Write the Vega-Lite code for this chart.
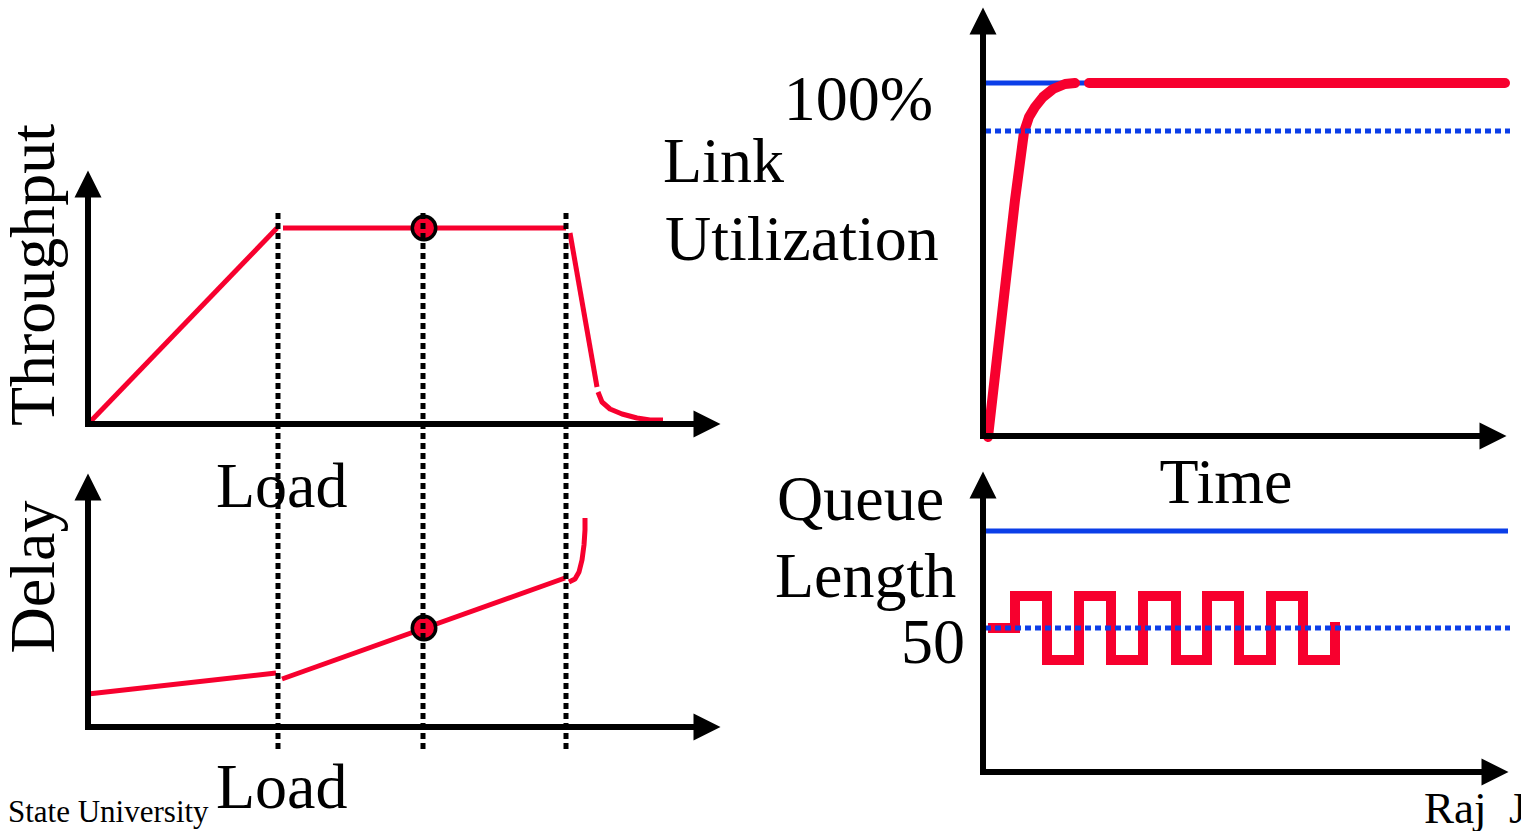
{
  "$schema": "https://vega.github.io/schema/vega-lite/v6.json",
  "width": 1521,
  "height": 831,
  "padding": 0,
  "autosize": {"type": "none"},
  "background": "white",
  "config": {"view": {"stroke": null}},
  "datasets": {
    "axes": [
      {"x0": 88, "y0": 427, "x1": 88, "y1": 195},
      {"x0": 85, "y0": 424, "x1": 697, "y1": 424},
      {"x0": 88, "y0": 730, "x1": 88, "y1": 498},
      {"x0": 85, "y0": 727, "x1": 697, "y1": 727},
      {"x0": 983, "y0": 439, "x1": 983, "y1": 32},
      {"x0": 980, "y0": 436, "x1": 1482, "y1": 436},
      {"x0": 983, "y0": 775, "x1": 983, "y1": 496},
      {"x0": 980, "y0": 772, "x1": 1482, "y1": 772}
    ],
    "upArrows": [
      {"x": 88, "y": 184}, {"x": 88, "y": 487}, {"x": 983, "y": 21}, {"x": 983, "y": 485}
    ],
    "rightArrows": [
      {"x": 707, "y": 424}, {"x": 707, "y": 727}, {"x": 1493, "y": 436}, {"x": 1495, "y": 772}
    ],
    "blueSolid": [
      {"x0": 985, "x1": 1090, "y": 83},
      {"x0": 985, "x1": 1508, "y": 531}
    ],
    "blueDotted": [
      {"x0": 985, "x1": 1510, "y": 131},
      {"x0": 985, "x1": 1510, "y": 628}
    ],
    "thin": [
      {"seg": "s1", "o": 0, "x": 90, "y": 422}, {"seg": "s1", "o": 1, "x": 277, "y": 228},
      {"seg": "s2", "o": 0, "x": 283, "y": 228}, {"seg": "s2", "o": 1, "x": 566, "y": 228},
      {"seg": "s3", "o": 0, "x": 570, "y": 233}, {"seg": "s3", "o": 1, "x": 597, "y": 387},
      {"seg": "s4", "o": 0, "x": 598, "y": 392}, {"seg": "s4", "o": 1, "x": 602, "y": 402},
      {"seg": "s4", "o": 2, "x": 610, "y": 409}, {"seg": "s4", "o": 3, "x": 622, "y": 414},
      {"seg": "s4", "o": 4, "x": 637, "y": 418}, {"seg": "s4", "o": 5, "x": 650, "y": 420},
      {"seg": "s4", "o": 6, "x": 663, "y": 420},
      {"seg": "d1", "o": 0, "x": 88, "y": 694}, {"seg": "d1", "o": 1, "x": 276, "y": 673},
      {"seg": "d2", "o": 0, "x": 282, "y": 679}, {"seg": "d2", "o": 1, "x": 565, "y": 578},
      {"seg": "d3", "o": 0, "x": 569, "y": 582}, {"seg": "d3", "o": 1, "x": 575, "y": 579},
      {"seg": "d3", "o": 2, "x": 579, "y": 572}, {"seg": "d3", "o": 3, "x": 582, "y": 560},
      {"seg": "d3", "o": 4, "x": 584, "y": 545}, {"seg": "d3", "o": 5, "x": 585, "y": 530},
      {"seg": "d3", "o": 6, "x": 585, "y": 518}
    ],
    "thickCurve": [
      {"seg": "c1", "o": 0, "x": 988, "y": 437}, {"seg": "c1", "o": 1, "x": 1015, "y": 200},
      {"seg": "c1", "o": 2, "x": 1024, "y": 132}, {"seg": "c1", "o": 3, "x": 1029, "y": 117},
      {"seg": "c1", "o": 4, "x": 1035, "y": 107}, {"seg": "c1", "o": 5, "x": 1043, "y": 97},
      {"seg": "c1", "o": 6, "x": 1053, "y": 89}, {"seg": "c1", "o": 7, "x": 1065, "y": 84},
      {"seg": "c1", "o": 8, "x": 1075, "y": 83},
      {"seg": "c2", "o": 0, "x": 1089, "y": 83}, {"seg": "c2", "o": 1, "x": 1505, "y": 83}
    ],
    "wave": [
      {"o": 0, "x": 988, "y": 628}, {"o": 1, "x": 1015, "y": 628},
      {"o": 2, "x": 1015, "y": 596}, {"o": 3, "x": 1047, "y": 596},
      {"o": 4, "x": 1047, "y": 660}, {"o": 5, "x": 1079, "y": 660},
      {"o": 6, "x": 1079, "y": 596}, {"o": 7, "x": 1111, "y": 596},
      {"o": 8, "x": 1111, "y": 660}, {"o": 9, "x": 1143, "y": 660},
      {"o": 10, "x": 1143, "y": 596}, {"o": 11, "x": 1176, "y": 596},
      {"o": 12, "x": 1176, "y": 660}, {"o": 13, "x": 1207, "y": 660},
      {"o": 14, "x": 1207, "y": 596}, {"o": 15, "x": 1239, "y": 596},
      {"o": 16, "x": 1239, "y": 660}, {"o": 17, "x": 1271, "y": 660},
      {"o": 18, "x": 1271, "y": 596}, {"o": 19, "x": 1303, "y": 596},
      {"o": 20, "x": 1303, "y": 660}, {"o": 21, "x": 1335, "y": 660},
      {"o": 22, "x": 1335, "y": 622}
    ],
    "circles": [
      {"x": 424, "y": 228}, {"x": 424, "y": 628}
    ],
    "dotted": [
      {"x": 278, "y0": 213, "y1": 753},
      {"x": 423, "y0": 213, "y1": 753},
      {"x": 566, "y0": 213, "y1": 753}
    ],
    "textLeft": [
      {"label": "Link", "x": 663, "y": 182},
      {"label": "Utilization", "x": 665, "y": 260},
      {"label": "Queue", "x": 777, "y": 520},
      {"label": "Length", "x": 775, "y": 597},
      {"label": "Load", "x": 216, "y": 507},
      {"label": "Load", "x": 216, "y": 808}
    ],
    "textCenter": [
      {"label": "Time", "x": 1226, "y": 503}
    ],
    "textRight": [
      {"label": "100%", "x": 933, "y": 120},
      {"label": "50", "x": 965, "y": 663}
    ],
    "textRotated": [
      {"label": "Throughput", "x": 54, "y": 275},
      {"label": "Delay", "x": 54, "y": 577}
    ],
    "footerLeft": [
      {"label": "State University", "x": 8, "y": 822}
    ],
    "footerRight": [
      {"label": "Raj\u00a0\u00a0Jain", "x": 1424, "y": 823}
    ]
  },
  "layer": [
    {
      "data": {"name": "blueSolid"},
      "mark": {"type": "rule", "color": "#0b3ee8", "strokeWidth": 5, "strokeCap": "butt"},
      "encoding": {
        "x": {"field": "x0", "type": "quantitative", "scale": {"domain": [0, 1521], "nice": false, "zero": false}, "axis": null},
        "x2": {"field": "x1"},
        "y": {"field": "y", "type": "quantitative", "scale": {"domain": [0, 831], "reverse": true, "nice": false, "zero": false}, "axis": null}
      }
    },
    {
      "data": {"name": "thin"},
      "mark": {"type": "line", "color": "#f7002e", "strokeWidth": 5, "strokeCap": "butt", "strokeJoin": "round"},
      "encoding": {
        "x": {"field": "x", "type": "quantitative", "axis": null},
        "y": {"field": "y", "type": "quantitative", "axis": null},
        "detail": {"field": "seg"},
        "order": {"field": "o", "type": "quantitative"}
      }
    },
    {
      "data": {"name": "thickCurve"},
      "mark": {"type": "line", "color": "#f7002e", "strokeWidth": 10, "strokeCap": "round", "strokeJoin": "round"},
      "encoding": {
        "x": {"field": "x", "type": "quantitative", "axis": null},
        "y": {"field": "y", "type": "quantitative", "axis": null},
        "detail": {"field": "seg"},
        "order": {"field": "o", "type": "quantitative"}
      }
    },
    {
      "data": {"name": "wave"},
      "mark": {"type": "line", "color": "#f7002e", "strokeWidth": 10, "strokeCap": "butt", "strokeJoin": "miter"},
      "encoding": {
        "x": {"field": "x", "type": "quantitative", "axis": null},
        "y": {"field": "y", "type": "quantitative", "axis": null},
        "order": {"field": "o", "type": "quantitative"}
      }
    },
    {
      "data": {"name": "blueDotted"},
      "mark": {"type": "rule", "color": "#0b3ee8", "strokeWidth": 5, "strokeDash": [6, 4], "strokeCap": "butt"},
      "encoding": {
        "x": {"field": "x0", "type": "quantitative", "axis": null},
        "x2": {"field": "x1"},
        "y": {"field": "y", "type": "quantitative", "axis": null}
      }
    },
    {
      "data": {"name": "axes"},
      "mark": {"type": "rule", "color": "black", "strokeWidth": 6, "strokeCap": "butt"},
      "encoding": {
        "x": {"field": "x0", "type": "quantitative", "axis": null},
        "x2": {"field": "x1"},
        "y": {"field": "y0", "type": "quantitative", "axis": null},
        "y2": {"field": "y1"}
      }
    },
    {
      "data": {"name": "upArrows"},
      "mark": {"type": "point", "shape": "M0,-1L1,1L-1,1Z", "filled": true, "color": "black", "size": 729, "opacity": 1, "strokeWidth": 0},
      "encoding": {
        "x": {"field": "x", "type": "quantitative", "axis": null},
        "y": {"field": "y", "type": "quantitative", "axis": null}
      }
    },
    {
      "data": {"name": "rightArrows"},
      "mark": {"type": "point", "shape": "M1,0L-1,1L-1,-1Z", "filled": true, "color": "black", "size": 729, "opacity": 1, "strokeWidth": 0},
      "encoding": {
        "x": {"field": "x", "type": "quantitative", "axis": null},
        "y": {"field": "y", "type": "quantitative", "axis": null}
      }
    },
    {
      "data": {"name": "circles"},
      "mark": {"type": "point", "shape": "circle", "filled": true, "fill": "#f7002e", "stroke": "black", "strokeWidth": 3.5, "size": 550, "fillOpacity": 1, "strokeOpacity": 1, "opacity": 1},
      "encoding": {
        "x": {"field": "x", "type": "quantitative", "axis": null},
        "y": {"field": "y", "type": "quantitative", "axis": null}
      }
    },
    {
      "data": {"name": "dotted"},
      "mark": {"type": "rule", "color": "black", "strokeWidth": 5, "strokeDash": [6, 4], "strokeCap": "butt"},
      "encoding": {
        "x": {"field": "x", "type": "quantitative", "axis": null},
        "y": {"field": "y0", "type": "quantitative", "axis": null},
        "y2": {"field": "y1"}
      }
    },
    {
      "data": {"name": "textLeft"},
      "mark": {"type": "text", "align": "left", "baseline": "alphabetic", "fontSize": 64, "font": "Liberation Serif", "color": "black"},
      "encoding": {
        "x": {"field": "x", "type": "quantitative", "axis": null},
        "y": {"field": "y", "type": "quantitative", "axis": null},
        "text": {"field": "label"}
      }
    },
    {
      "data": {"name": "textCenter"},
      "mark": {"type": "text", "align": "center", "baseline": "alphabetic", "fontSize": 64, "font": "Liberation Serif", "color": "black"},
      "encoding": {
        "x": {"field": "x", "type": "quantitative", "axis": null},
        "y": {"field": "y", "type": "quantitative", "axis": null},
        "text": {"field": "label"}
      }
    },
    {
      "data": {"name": "textRight"},
      "mark": {"type": "text", "align": "right", "baseline": "alphabetic", "fontSize": 64, "font": "Liberation Serif", "color": "black"},
      "encoding": {
        "x": {"field": "x", "type": "quantitative", "axis": null},
        "y": {"field": "y", "type": "quantitative", "axis": null},
        "text": {"field": "label"}
      }
    },
    {
      "data": {"name": "textRotated"},
      "mark": {"type": "text", "align": "center", "baseline": "alphabetic", "angle": 270, "fontSize": 64, "font": "Liberation Serif", "color": "black"},
      "encoding": {
        "x": {"field": "x", "type": "quantitative", "axis": null},
        "y": {"field": "y", "type": "quantitative", "axis": null},
        "text": {"field": "label"}
      }
    },
    {
      "data": {"name": "footerLeft"},
      "mark": {"type": "text", "align": "left", "baseline": "alphabetic", "fontSize": 31, "font": "Liberation Serif", "color": "black"},
      "encoding": {
        "x": {"field": "x", "type": "quantitative", "axis": null},
        "y": {"field": "y", "type": "quantitative", "axis": null},
        "text": {"field": "label"}
      }
    },
    {
      "data": {"name": "footerRight"},
      "mark": {"type": "text", "align": "left", "baseline": "alphabetic", "fontSize": 45, "font": "Liberation Serif", "color": "black"},
      "encoding": {
        "x": {"field": "x", "type": "quantitative", "axis": null},
        "y": {"field": "y", "type": "quantitative", "axis": null},
        "text": {"field": "label"}
      }
    }
  ]
}
